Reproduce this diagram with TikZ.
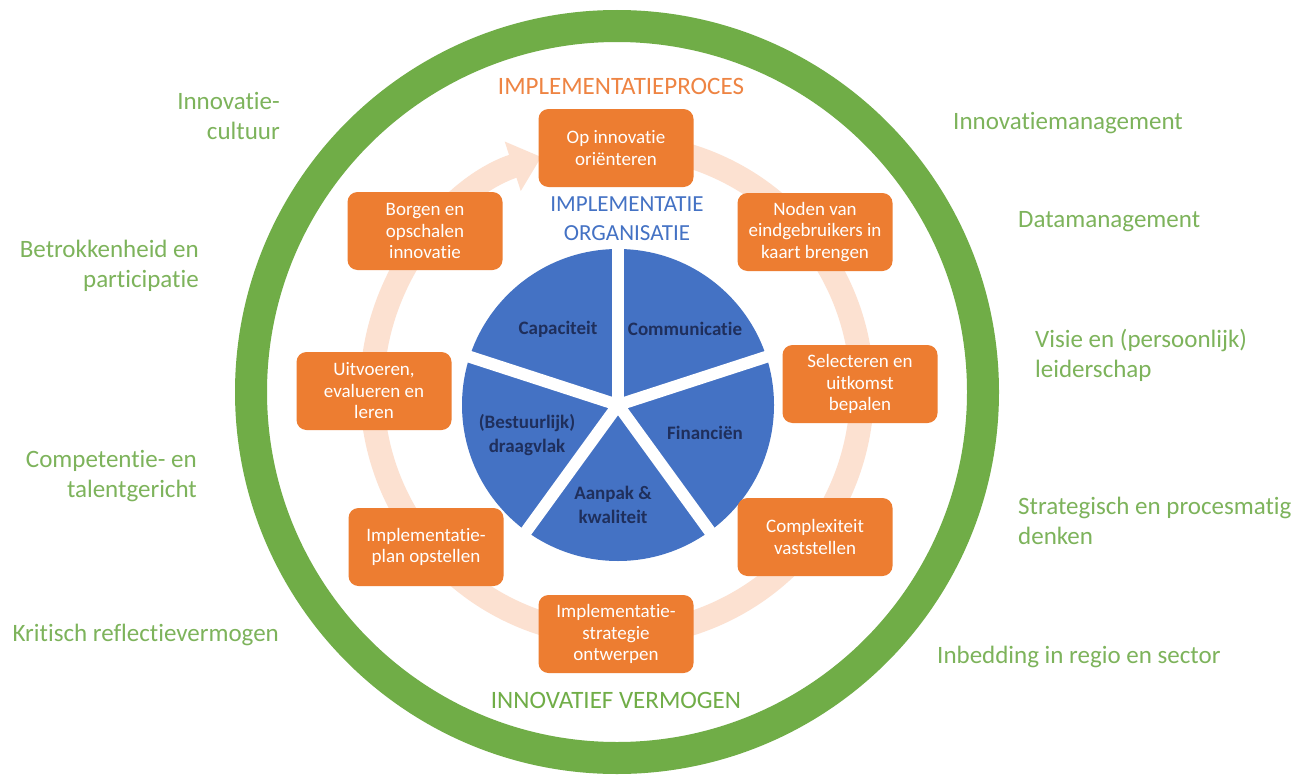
\documentclass[tikz,border=0pt]{standalone}
\usepackage{fontspec}
\setmainfont{Carlito}[Ligatures=NoCommon]
\usetikzlibrary{arrows.meta}
\definecolor{ringgreen}{HTML}{70AD47}
\definecolor{labgreen}{HTML}{7DB35B}
\definecolor{procorange}{HTML}{ED7D31}
\definecolor{titleorange}{HTML}{EE8443}
\definecolor{peach}{HTML}{FCE1D1}
\definecolor{pieblue}{HTML}{4472C4}
\definecolor{pietext}{HTML}{1F2F5C}
\tikzset{
  stepbox/.style={fill=procorange, rounded corners=10pt, minimum width=155pt,
    minimum height=78pt, text=white, align=center, inner sep=2pt,
    font=\fontsize{19}{21.5}\selectfont},
  lblL/.style={text=labgreen, align=right, anchor=east, inner sep=0pt,
    font=\fontsize{25}{30}\selectfont},
  lblR/.style={text=labgreen, align=left, anchor=west, inner sep=0pt,
    font=\fontsize{25}{30}\selectfont},
  pielbl/.style={text=pietext, align=center, inner sep=0pt,
    font=\bfseries\fontsize{19}{24}\selectfont},
  title/.style={inner sep=0pt, font=\fontsize{25}{29}\selectfont}
}
\begin{document}
\begin{tikzpicture}[x=1pt,y=1pt]
\useasboundingbox (0,0) rectangle (1309,-776);
\fill[white] (0,0) rectangle (1309,-776);
% green ring
\coordinate (rc) at (617,-392);
\draw[ringgreen, line width=32pt] (rc) circle[radius=366];
% process arc
\coordinate (pc) at (617,-390);
\draw[peach, line width=24pt, -{Triangle[width=50pt,length=30pt]}]
  (pc) ++(75:245) arc[start angle=75, end angle=-252, radius=245];
% pie
\coordinate (pie) at (618,-405);
\fill[pieblue] (pie) circle[radius=156];
\foreach \a in {90,18,-54,-126,162}
  \draw[white, line width=12pt] (pie) -- ++(\a:166);
\node[pielbl] (cap) at (558,-329) {Capaciteit};
\node[pielbl] (com) at (685,-329) {Communicatie};
\node[pielbl] (fin) at (705,-433) {Financiën};
\node[pielbl] (bes) at (527,-435) {(Bestuurlijk)\\draagvlak};
\node[pielbl] (aan) at (613,-505) {Aanpak \&\\kwaliteit};
% titles
\node[title, text=titleorange] (tproc) at (621,-86) {IMPLEMENTATIEPROCES};
\node[title, text=ringgreen] (tinn) at (616,-700) {INNOVATIEF VERMOGEN};
\node[title, text=pieblue, align=center, font=\fontsize{23}{29}\selectfont] (torg) at (627,-219) {IMPLEMENTATIE\\ORGANISATIE};
% process steps
\node[stepbox] (s1) at (616,-148) {Op innovatie\\oriënteren};
\node[stepbox] (s2) at (815,-232) {Noden van\\eindgebruikers in\\kaart brengen};
\node[stepbox] (s3) at (860,-384) {Selecteren en\\uitkomst\\bepalen};
\node[stepbox] (s4) at (815,-537) {Complexiteit\\vaststellen};
\node[stepbox] (s5) at (616,-634) {Implementatie-\\strategie\\ontwerpen};
\node[stepbox] (s6) at (426,-547) {Implementatie-\\plan opstellen};
\node[stepbox] (s7) at (374,-391) {Uitvoeren,\\evalueren en\\leren};
\node[stepbox] (s8) at (425,-231) {Borgen en\\opschalen\\innovatie};
% left labels
\node[lblL] (l1) at (280,-116) {Innovatie-\\cultuur};
\node[lblL] (l2) at (199,-266) {Betrokkenheid en\\participatie};
\node[lblL] (l3) at (197,-476) {Competentie- en\\talentgericht};
\node[lblL] (l4) at (279,-635) {Kritisch reflectievermogen};
% right labels
\node[lblR] (r1) at (953,-123) {Innovatiemanagement};
\node[lblR] (r2) at (1018,-222) {Datamanagement};
\node[lblR] (r3) at (1035,-355) {Visie en (persoonlijk)\\leiderschap};
\node[lblR] (r4) at (1018,-521) {Strategisch en procesmatig\\denken};
\node[lblR] (r5) at (937,-657) {Inbedding in regio en sector};
\end{tikzpicture}
\end{document}
